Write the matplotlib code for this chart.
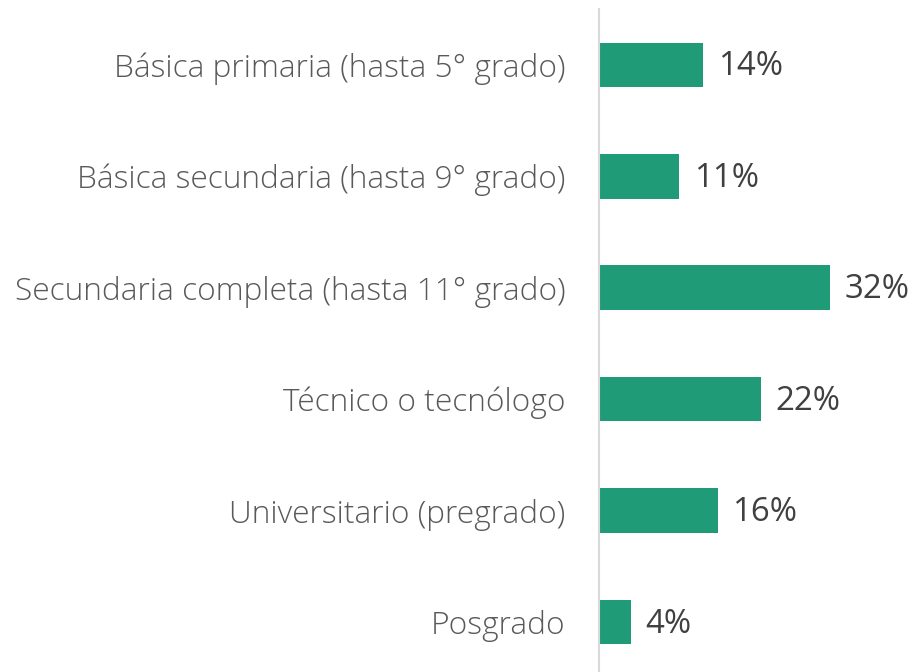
import matplotlib
matplotlib.use("Agg")
import matplotlib.pyplot as plt
from matplotlib import font_manager

# data (percent)
categories = [
    "Básica primaria (hasta 5° grado)",
    "Básica secundaria (hasta 9° grado)",
    "Secundaria completa (hasta 11° grado)",
    "Técnico o tecnólogo",
    "Universitario (pregrado)",
    "Posgrado",
]
values = [14.4, 11.1, 31.9, 22.4, 16.4, 4.4]

# pick a light sans if one is installed, else plain regular
fam = "DejaVu Sans"
weight = "normal"
names = {(f.name, f.weight) for f in font_manager.fontManager.ttflist}
for cand in ["Open Sans", "Lato", "Noto Sans", "Roboto"]:
    if any(n == cand and w in (300, "light", 200) for n, w in names):
        fam, weight = cand, "light"
        break
    if any(n == cand for n, w in names) and fam == "DejaVu Sans":
        fam = cand
plt.rcParams["font.family"] = [fam, "DejaVu Sans"]

bar_col = "#1f9b78"
lab_col = "#595959"
val_col = "#404040"

fig = plt.figure(figsize=(9.18, 6.72), dpi=100)
ax = fig.add_axes([0.6525, -0.0086, 0.3475, 0.9951])

y = list(range(len(categories)))
ax.barh(y, values, height=0.4, color=bar_col)

for yi, v in zip(y, values):
    ax.annotate("{:.0f}%".format(v), xy=(v, yi), xytext=(10.5, -1.5),
                textcoords="offset points", va="center", ha="left",
                fontsize=23.8, color=val_col, fontweight="normal")

ax.set_yticks(y)
ax.set_yticklabels(categories, fontsize=22.8, color=lab_col, fontweight=weight)
ax.tick_params(axis="y", length=0, pad=24)
ax.set_xticks([])
ax.set_xlim(0, 44.1)
ax.set_ylim(5.5, -0.5)

for s in ["top", "right", "bottom"]:
    ax.spines[s].set_visible(False)
ax.spines["left"].set_color("#d9d9d9")
ax.spines["left"].set_linewidth(1.5)

fig.savefig("out.png", dpi=100)
